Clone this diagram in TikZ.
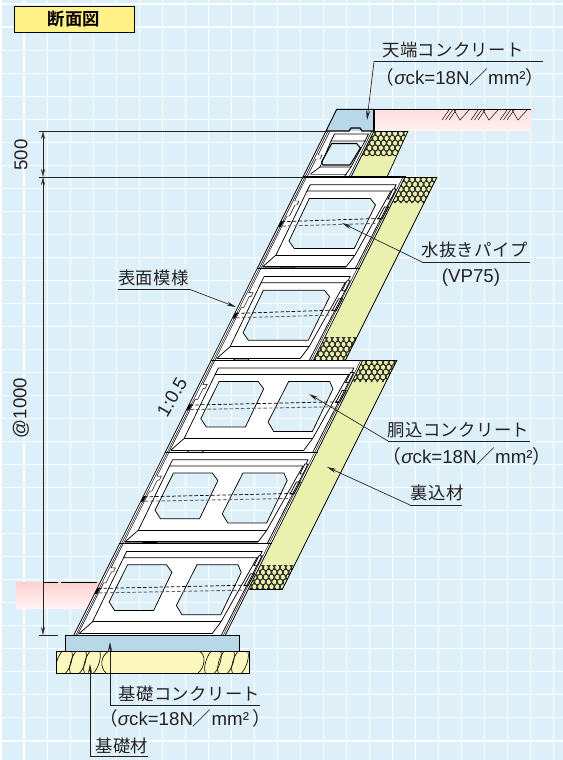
\documentclass[tikz,border=0pt]{standalone}
\usepackage{fontspec}
\setmainfont{Liberation Sans}
\newfontfamily\jp[LetterSpace=2]{Noto Sans CJK JP}
\newfontfamily\jpb[LetterSpace=2]{Noto Sans CJK JP Bold}
\usetikzlibrary{arrows.meta,calc}
\definecolor{bgc}{HTML}{DDF0FA}
\definecolor{capblue}{HTML}{B8D7E8}
\definecolor{backfill}{HTML}{EAF0AE}
\definecolor{basefill}{HTML}{FDF9BE}
\definecolor{titlefill}{HTML}{FFF187}
\definecolor{inkc}{HTML}{222222}
\tikzset{
 wl/.style={line width=0.55pt,draw=black},
 wt/.style={line width=0.35pt,draw=black},
 wg/.style={line width=0.7pt,draw=black!55},
 leader/.style={line width=0.5pt,draw=inkc},
 ar/.style={leader,-{Stealth[length=7pt,width=3pt]}},
 lab/.style={inner sep=0pt,text=inkc,font=\fontsize{14}{16}\selectfont},
 labj/.style={inner sep=0pt,text=inkc,font=\fontsize{13}{15}\jp},
 dimline/.style={line width=0.45pt,draw=inkc},
 dimar/.style={dimline,{Stealth[open,length=6pt,width=3pt]}-{Stealth[open,length=6pt,width=3pt]}},
 oval/.style={line width=0.3pt,draw=black,fill=backfill}
}
\newcommand{\strength}{{\jp（}{\itshape σ}ck=18N{\jp／}mm²{\jp）}}
% hatched band: top-left x, top-right x, top y, height
\newcommand{\ovalband}[4]{%
 \begin{scope}
  \clip (#1,#3) -- (#2,#3) -- ({#2-0.5*#4},{#3+#4}) -- ({#1-0.5*#4},{#3+#4}) -- cycle;
  \fill[black!75] (#1-30,#3) rectangle (#2,#3+#4);
  \foreach \r in {0,...,5}{
   \foreach \c in {0,...,14}{
    \pgfmathsetmacro{\ox}{#1-0.5*#4-6+\c*5.7+mod(\r,2)*2.85}
    \pgfmathsetmacro{\oy}{#3+2.5+\r*4.8}
    \draw[oval] (\ox,\oy) ellipse [x radius=2.45,y radius=2.9];
   }
  }
 \end{scope}}
% frame of one wall block, local coords, W = width
\newcommand{\blockframe}[1]{%
 \draw[wl] (0,0) -- (0,91.7);
 \draw[wt] (2,0) -- (2,91.7);
 \draw[wt] (3.6,0) -- (3.6,24) -- (8,24) -- (8,28) -- (6,28) -- (6,39) -- (3.6,39) -- (3.6,91.7);
 \draw[wl] (11,7.7) -- ({#1-5},7.7) -- ({#1-5},14) -- (11,14) -- cycle;
 \draw[wl] (11,14) -- (12,78) -- (4.5,89.8);
 \draw[wl] ({#1-7},14) -- ({#1-11},78) -- ({#1-14},90);
 \draw[wl] (12,78) -- ({#1-11},78);
 \draw[wg] (4.5,90) -- ({#1-14},90);
 \draw[wl] (4.5,89.6) -- ({#1-14},89.6);
 \draw[wl] ({#1-3},14) -- ({#1-4},91.7);
 \draw[wl] ({#1-0},0) -- ({#1-0},91.7);
 \draw[wt] ({#1-2},0) -- ({#1-2},91.7);
 \draw[wl] ({#1-5.5},30) -- ({#1-1.5},30) -- ({#1-2},42) -- ({#1-6},42) -- cycle;
 \draw[wl,fill=white] ({#1-6},12) -- ({#1-3},12) -- ({#1-3},22) -- ({#1-6},22) -- cycle;
 \draw[line width=0.55pt,fill=white] (22,0) -- (23,-1.4) -- (36,-1.4) -- (38,0);
 \draw[line width=0.9pt] (-0.5,0) -- ({#1+1},0);
 \fill[black] (0.2,44) rectangle (2.8,50);
}
\newcommand{\pipes}[1]{%
 \draw[wl,dash pattern=on 2.6pt off 1.6pt] (1,44.7) -- ({#1-1},41.3);
 \draw[line width=0.7pt,draw=black!60,dash pattern=on 2.6pt off 1.6pt,dash phase=2pt] (1,49.2) -- ({#1-2},46.3);
}
\newcommand{\narrowblock}{%
 \path[fill=white,even odd rule] (0,0) -- (102,0) -- (102,91.7) -- (0,91.7) -- cycle
  (17,21.5) -- (78,21.5) -- (86.5,28) -- (87,71.5) -- (27,71.5) -- (18,64) -- cycle;
 \draw[wl] (17,21.5) -- (78,21.5) -- (86.5,28) -- (87,71.5) -- (27,71.5) -- (18,64) -- cycle;
 \blockframe{102}\pipes{102}}
\newcommand{\wideblock}{%
 \path[fill=white,even odd rule] (0,0) -- (151.5,0) -- (151.5,91.7) -- (0,91.7) -- cycle
  (18.5,21) -- (57.5,21) -- (66.7,28.5) -- (67.5,66.7) -- (28.5,66.7) -- (18.7,58.2) -- cycle
  (88,21) -- (129,21) -- (136,28.5) -- (136.7,71) -- (98,71) -- (87.7,61.7) -- cycle;
 \draw[wl] (18.5,21) -- (57.5,21) -- (66.7,28.5) -- (67.5,66.7) -- (28.5,66.7) -- (18.7,58.2) -- cycle;
 \draw[wl] (88,21) -- (129,21) -- (136,28.5) -- (136.7,71) -- (98,71) -- (87.7,61.7) -- cycle;
 \blockframe{151.5}\pipes{151.5}}
\begin{document}
\begin{tikzpicture}[x=0.75pt,y=-0.75pt]
\useasboundingbox (0,0) rectangle (563,760);
\fill[bgc] (0,0) rectangle (563,760);
\foreach \k in {0,...,24} \draw[white,line width=0.8pt] ({1+23.03*\k},0) -- ({1+23.03*\k},760);
\foreach \k in {0,...,32} \draw[white,line width=0.8pt] (0,{4+23.03*\k}) -- (563,{4+23.03*\k});
% title
\node[draw=black,line width=0.7pt,fill=titlefill,minimum width=90pt,minimum height=19.5pt,inner sep=0pt,font=\fontsize{13}{15}\jpb,text=black] (title) at (74,19.5) {断面図};
% ground strips
\path[top color=red!13!white,bottom color=red!6!white] (374,109) -- (531,109) -- (531,130) -- (374,130) -- cycle;
\draw[line width=0.7pt] (374,109) -- (531,109);
\path[top color=red!18!white,bottom color=red!4!white] (16,582) -- (100,582) -- (87,609) -- (16,609) -- cycle;
\draw[line width=0.5pt] (44,582) -- (58,582) (61,582) -- (97,582);
% surface hatch
\foreach \a in {442,471,500}{
 \draw[line width=0.35pt] (\a,120) -- (\a+7,110) (\a+3.5,120) -- (\a+10.5,110) (\a+7,120) -- (\a+14,110) (\a+12,110) -- (\a+18,120) -- (\a+27,110);
}
% backfill
\fill[backfill] (374,131) -- (408,131) -- (387,177) -- (353,177) -- cycle;
\fill[backfill] (405,177) -- (437,177) -- (345.5,360) -- (313,360) -- cycle;
\fill[backfill] (363,360) -- (397,360) -- (282.5,589) -- (249,589) -- cycle;
\ovalband{368}{408}{131}{25}
\ovalband{397}{437}{177}{26}
\ovalband{324}{357}{337}{23}
\ovalband{363}{397}{360}{22}
\ovalband{261}{294.5}{565}{24}
\draw[wl] (408,131) -- (387,177);
\draw[wl] (437,177) -- (345.5,360);
\draw[wl] (397,360) -- (282.5,589);
\draw[wl] (374,131) -- (408,131) (405,177) -- (437,177) (363,360) -- (397,360) (249,589) -- (282.5,589) (313,360) -- (345.5,360);
% wall blocks (slanted local frames)
\begin{scope}[shift={(303,177)},xslant=0.5]\narrowblock\end{scope}
\begin{scope}[shift={(257.1,268.7)},xslant=0.5]\narrowblock\end{scope}
\begin{scope}[shift={(211.2,360.4)},xslant=0.5]\wideblock\end{scope}
\begin{scope}[shift={(165.4,452.1)},xslant=0.5]\wideblock\end{scope}
\begin{scope}[shift={(119.5,543.8)},xslant=0.5]\wideblock\end{scope}
\draw[line width=0.9pt] (119,543.8) -- (271,543.8);
\draw[line width=0.9pt] (165,452.1) -- (317,452.1);
\draw[line width=0.9pt] (257,268.7) -- (359,268.7);
\draw[line width=0.9pt] (211,360.4) -- (313,360.4);
% top short block
\begin{scope}[shift={(326,131)},xslant=0.5]
 \path[fill=white,even odd rule] (0,0) -- (48,0) -- (48,46) -- (0,46) -- cycle
  (12,12.5) -- (37,12.5) -- (43,17) -- (41,34) -- (14,34) -- (11,31) -- cycle;
 \draw[wl,line width=0.8pt] (12,12.5) -- (37,12.5) -- (43,17) -- (41,34) -- (14,34) -- (11,31) -- cycle;
 \draw[wl] (0,0) -- (0,46) (48,0) -- (48,46);
 \draw[wt] (2,0) -- (2,46) (46,0) -- (46,46) (4,0) -- (4,24) -- (8,24) -- (8,28) -- (4,28) -- (4,46);
 \draw[wl] (10,3) -- (44,3) -- (44,10) -- (10,10) -- cycle;
 \draw[wl] (10,10) -- (12,36) -- (43,36) -- (44,10);
 \draw[wg] (6,43) -- (42,43);
 \draw[wl] (12,36) -- (6,43);
 \draw[wl] (43,36) -- (41,46);
 \draw[line width=0.9pt] (-0.5,46) -- (48,46);
\end{scope}
% coping
\fill[capblue] (336.7,109.3) -- (374,109.3) -- (374,131) -- (326,131) -- cycle;
\draw[line width=0.7pt] (326,131) -- (336.7,109.3) -- (374,109.3);
\draw[line width=0.9pt] (374,109.3) -- (374,131);
\draw[line width=0.9pt] (326,131) -- (349,131) -- (351,128) -- (360,128) -- (362,131) -- (374,131);
% base
\draw[line width=0.6pt,fill=capblue] (65,635) rectangle (239.5,651);
\begin{scope}
 \path[clip] (56,651.5) rectangle (249,673);
 \fill[basefill] (56,651.5) rectangle (249,673);
 \foreach \c in {64,78,92,213,226,240}
  \draw[line width=0.45pt] (\c,662) ellipse [x radius=7,y radius=15,rotate=-20];
 \draw[line width=0.45pt] (109,651) .. controls (100,656) and (100,668) .. (106,673);
 \draw[line width=0.45pt] (198,651) .. controls (207,653) and (205,668) .. (198,673);
\end{scope}
\draw[line width=0.6pt] (56,651.5) rectangle (249,673);
% dimensions
\coordinate (d0) at (43,131); \coordinate (d1) at (43,177); \coordinate (d2) at (43,635);
\draw[dimline] (39,131) -- (326,131);
\draw[dimline] (39,177) -- (302,177);
\draw[dimline] (39,635) -- (58,635);
\draw[dimar] (d0) -- (d1);
\draw[dimar] (d1) -- (d2);
\node[lab,rotate=90] (dimA) at (21,155) {500};
\node[lab,rotate=90] (dimB) at (21,408) {@1000};
\node[lab,rotate=60] (slope) at (172,397) {1:0.5};
% labels
\node[labj] (capL) at (453,50) {天端コンクリート};
\node[lab] (capS) at (460,77) {\strength};
\coordinate (capA) at (374,61.5); \coordinate (capB) at (543,61.5); \coordinate (capT) at (367,120);
\draw[leader] (capB) -- (capA); \draw[ar] (capA) -- (capT);
\node[labj] (pipeL) at (474.5,250) {水抜きパイプ};
\node[lab] (pipeS) at (471,278) {(VP75)};
\coordinate (pipeA) at (422,262); \coordinate (pipeB) at (530,262); \coordinate (pipeT) at (342,223);
\draw[leader] (pipeB) -- (pipeA); \draw[ar] (pipeA) -- (pipeT);
\node[labj] (faceL) at (153.5,278) {表面模様};
\coordinate (faceA) at (118,289.5); \coordinate (faceB) at (190,289.5); \coordinate (faceT) at (236,307);
\draw[leader] (faceA) -- (faceB); \draw[ar] (faceB) -- (faceT);
\node[labj] (fillL) at (458.5,430) {胴込コンクリート};
\node[lab] (fillS) at (467,456) {\strength};
\coordinate (fillA) at (388,441); \coordinate (fillB) at (530,441); \coordinate (fillT) at (309,394);
\draw[leader] (fillB) -- (fillA); \draw[ar] (fillA) -- (fillT);
\node[labj] (backL) at (437,493) {裏込材};
\coordinate (backA) at (410,505); \coordinate (backB) at (462,505); \coordinate (backT) at (327,467);
\draw[leader] (backB) -- (backA); \draw[ar] (backA) -- (backT);
\node[labj] (baseL) at (189.5,694) {基礎コンクリート};
\node[lab] (baseS) at (185,718) {{\jp（}{\itshape σ}ck=18N{\jp／}mm²\,{\jp）}};
\coordinate (baseA) at (110,705); \coordinate (baseB) at (260,705); \coordinate (baseT) at (110,642);
\draw[leader] (baseB) -- (baseA); \draw[ar] (baseA) -- (baseT);
\node[labj] (subL) at (122,746) {基礎材};
\coordinate (subA) at (90,756.5); \coordinate (subB) at (148,756.5); \coordinate (subT) at (90,664);
\draw[leader] (subB) -- (subA); \draw[ar] (subA) -- (subT);
\end{tikzpicture}
\end{document}
